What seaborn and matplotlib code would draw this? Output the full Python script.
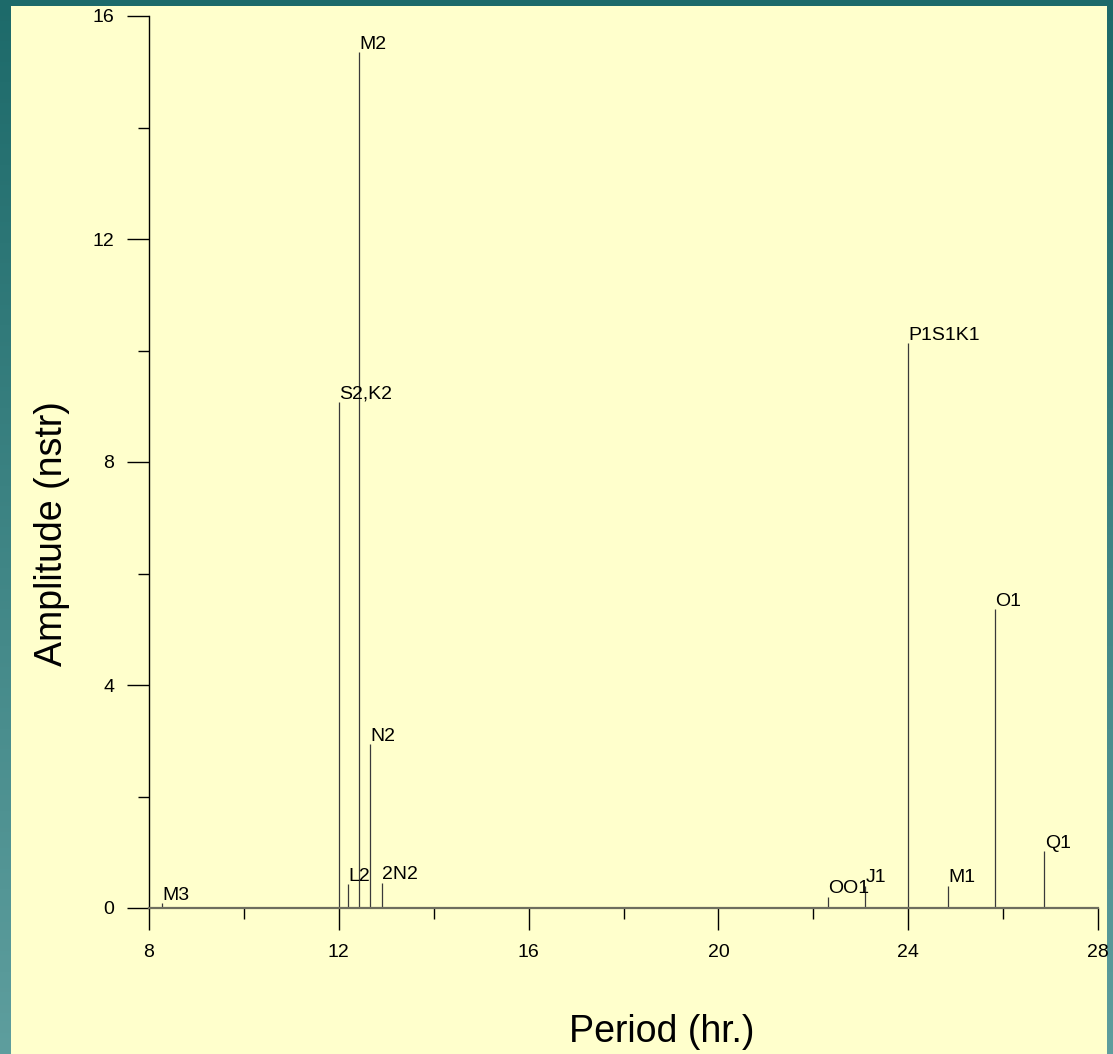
import numpy as np
import pandas as pd
import seaborn as sns
import matplotlib.pyplot as plt
from matplotlib.ticker import MultipleLocator
from matplotlib.colors import LinearSegmentedColormap

# tidal constituents
constituents = ["M3", "S2,K2", "L2", "M2", "N2", "2N2", "OO1", "J1",
                "P1S1K1", "M1", "O1", "Q1"]
period_hr = [8.27, 12.00, 12.19, 12.42, 12.66, 12.90, 22.30, 23.10,
             24.00, 24.84, 25.82, 26.87]
amplitude = [0.09, 9.08, 0.43, 15.35, 2.94, 0.45, 0.20, 0.40,
             10.13, 0.40, 5.36, 1.02]

df = pd.DataFrame({"name": constituents, "period": period_hr, "amp": amplitude})

sns.set_style("ticks")
plt.rcParams["font.family"] = ["Liberation Sans", "DejaVu Sans"]
plt.rcParams["text.color"] = "black"
plt.rcParams["axes.labelcolor"] = "black"
plt.rcParams["xtick.color"] = "black"
plt.rcParams["ytick.color"] = "black"

fig = plt.figure(figsize=(11.13, 10.54), dpi=100)
fig.patch.set_facecolor("#2E7676")

# teal gradient backdrop
bg = fig.add_axes([0, 0, 1, 1], zorder=-10)
grad = np.linspace(0, 1, 256).reshape(-1, 1)
cmap = LinearSegmentedColormap.from_list("teal", ["#1D6A6A", "#5E9E9E"])
bg.imshow(grad, aspect="auto", cmap=cmap, extent=[0, 1, 0, 1])
bg.axis("off")

# pale yellow panel
panel = fig.add_axes([11 / 1113, 0, (1107 - 11) / 1113, (1054 - 6) / 1054], zorder=-5)
panel.set_facecolor("#FFFFCC")
panel.set_xticks([])
panel.set_yticks([])
for s in panel.spines.values():
    s.set_visible(False)

ax = fig.add_axes([149 / 1113, 146 / 1054, (1098 - 149) / 1113, (908 - 16) / 1054])
ax.patch.set_alpha(0)

ax.vlines(df["period"], 0, df["amp"], color="#3a3a3a", lw=0.9)
for _, r in df.iterrows():
    ax.annotate(r["name"], (r["period"], r["amp"]), xytext=(0.3, 2.5),
                textcoords="offset points", ha="left", va="baseline",
                fontsize=14, color="black")

ax.set_xlim(8, 28)
ax.set_ylim(0, 16)
ax.xaxis.set_major_locator(MultipleLocator(4))
ax.xaxis.set_minor_locator(MultipleLocator(2))
ax.yaxis.set_major_locator(MultipleLocator(4))
ax.yaxis.set_minor_locator(MultipleLocator(2))

sns.despine(ax=ax)
ax.spines["left"].set_color("black")
ax.spines["left"].set_linewidth(1.0)
ax.spines["bottom"].set_color("#6e6e5e")
ax.spines["bottom"].set_linewidth(1.6)

ax.tick_params(axis="both", which="major", length=16, width=1.0, color="black",
               labelsize=14, labelcolor="black")
ax.tick_params(axis="both", which="minor", length=8, width=1.0, color="black")
ax.tick_params(axis="x", which="major", pad=10)
ax.tick_params(axis="y", which="major", pad=9)

ax.set_xlabel("Period (hr.)", fontsize=27, color="black")
ax.set_ylabel("Amplitude (nstr)", fontsize=27, color="black")
ax.xaxis.set_label_coords(0.54, -0.119)
ax.yaxis.set_label_coords(-0.083, 0.42)

fig.savefig("out.png", dpi=100, facecolor=fig.get_facecolor())
